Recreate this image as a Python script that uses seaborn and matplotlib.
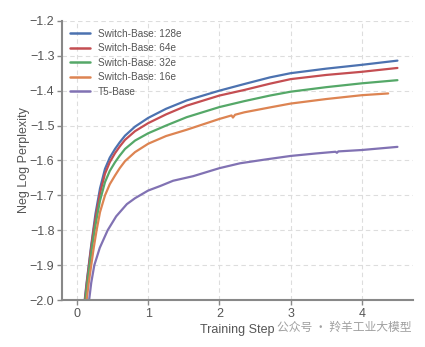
import numpy as np
import pandas as pd
import seaborn as sns
import matplotlib
matplotlib.use("Agg")
import matplotlib.pyplot as plt

# ---- data ----
labels = ["Switch-Base: 128e", "Switch-Base: 64e", "Switch-Base: 32e",
          "Switch-Base: 16e", "T5-Base"]

x_128 = [0.108, 0.135, 0.165, 0.195, 0.228, 0.26, 0.323, 0.393, 0.46, 0.534,
         0.60, 0.674, 0.815, 1.00, 1.25, 1.54, 2.00, 2.35, 2.71, 3.00, 3.50,
         4.00, 4.50]
y_128 = [-2.00, -1.95, -1.90, -1.85, -1.80, -1.752, -1.680, -1.624, -1.592,
         -1.567, -1.548, -1.529, -1.503, -1.478, -1.452, -1.428, -1.400,
         -1.381, -1.362, -1.350, -1.337, -1.326, -1.314]

x_64 = [0.111, 0.138, 0.168, 0.199, 0.233, 0.265, 0.323, 0.393, 0.46, 0.534,
        0.60, 0.674, 0.815, 1.00, 1.25, 1.54, 2.00, 2.35, 2.71, 3.00, 3.50,
        4.00, 4.50]
y_64 = [-2.00, -1.95, -1.90, -1.85, -1.80, -1.760, -1.694, -1.638, -1.605,
        -1.579, -1.560, -1.541, -1.516, -1.493, -1.468, -1.443, -1.414,
        -1.398, -1.380, -1.367, -1.355, -1.346, -1.335]

x_32 = [0.117, 0.146, 0.177, 0.21, 0.247, 0.28, 0.323, 0.393, 0.46, 0.534,
        0.60, 0.674, 0.815, 1.00, 1.25, 1.54, 2.00, 2.35, 2.71, 3.00, 3.50,
        4.00, 4.50]
y_32 = [-2.00, -1.95, -1.90, -1.85, -1.80, -1.762, -1.715, -1.662, -1.630,
        -1.605, -1.586, -1.567, -1.543, -1.522, -1.500, -1.476, -1.447,
        -1.430, -1.414, -1.403, -1.390, -1.379, -1.370]

x_16 = [0.135, 0.165, 0.20, 0.235, 0.275, 0.323, 0.393, 0.46, 0.534, 0.60,
        0.674, 0.815, 1.00, 1.25, 1.54, 2.00, 2.17, 2.19, 2.22, 2.35, 2.71,
        3.00, 3.50, 4.00, 4.37]
y_16 = [-2.00, -1.95, -1.90, -1.85, -1.80, -1.748, -1.700, -1.668, -1.643,
        -1.622, -1.602, -1.576, -1.552, -1.530, -1.512, -1.481, -1.471,
        -1.477, -1.469, -1.462, -1.448, -1.437, -1.424, -1.413, -1.408]

x_t5 = [0.17, 0.20, 0.243, 0.32, 0.43, 0.55, 0.70, 0.815, 1.00, 1.17, 1.35,
        1.63, 2.00, 2.29, 2.65, 3.00, 3.35, 3.63, 3.65, 3.67, 4.00, 4.50]
y_t5 = [-2.00, -1.95, -1.90, -1.85, -1.80, -1.76, -1.725, -1.708, -1.686,
        -1.673, -1.658, -1.645, -1.622, -1.608, -1.597, -1.587, -1.580,
        -1.575, -1.578, -1.574, -1.570, -1.561]

xs = [x_128, x_64, x_32, x_16, x_t5]
ys = [y_128, y_64, y_32, y_16, y_t5]

x_ticks = [0, 1, 2, 3, 4]
y_ticks = [-2.0, -1.9, -1.8, -1.7, -1.6, -1.5, -1.4, -1.3, -1.2]

frames = []
for lab, xv, yv in zip(labels, xs, ys):
    frames.append(pd.DataFrame({"step": xv, "nlp": yv, "model": lab}))
df = pd.concat(frames, ignore_index=True)

# ---- style ----
sns.set_theme(style="whitegrid")
plt.rcParams["font.family"] = ["Liberation Sans", "DejaVu Sans"]

palette = ["#4C72B0", "#C44E52", "#55A868", "#DD8452", "#8172B3"]

fig = plt.figure(figsize=(4.25, 3.47), dpi=100)
ax = fig.add_axes([0.146, 0.135, 0.826, 0.805])

sns.lineplot(data=df, x="step", y="nlp", hue="model", hue_order=labels,
             palette=palette, linewidth=1.6, ax=ax, sort=False,
             estimator=None)
for ln in ax.lines:
    ln.set_solid_joinstyle("round")

ax.set_xlim(-0.21, 4.72)
ax.set_ylim(-2.0, -1.2)
ax.set_xticks(x_ticks)
ax.set_yticks(y_ticks)
ax.set_yticklabels([f"{v:.1f}".replace("-", "\u2212") for v in y_ticks])

tick_col = "#555555"
ax.tick_params(axis="both", labelsize=9, colors="#888888", length=3.5,
               width=1.0, direction="out", pad=2)
ax.tick_params(axis="both", labelcolor=tick_col)
ax.xaxis.set_ticks_position("bottom")
ax.yaxis.set_ticks_position("left")

ax.grid(True, color="#dddddd", linestyle=(0, (4, 3)), linewidth=0.8)
for s in ["top", "right"]:
    ax.spines[s].set_visible(False)
for s in ["left", "bottom"]:
    ax.spines[s].set_visible(True)
    ax.spines[s].set_color("#888888")
    ax.spines[s].set_linewidth(1.5)

ax.set_xlabel("Training Step", fontsize=9, color=tick_col, labelpad=3)
ax.set_ylabel("Neg Log Perplexity", fontsize=9, color=tick_col, labelpad=0)

leg = ax.legend(loc="upper left", bbox_to_anchor=(0.0, 1.0), frameon=False,
                fontsize=7.2, handlelength=2.0, handletextpad=0.8,
                labelspacing=0.45, borderaxespad=0.4, borderpad=0.4)
for t in leg.get_texts():
    t.set_color("#555555")
for h in leg.legend_handles:
    h.set_linewidth(1.8)

fig.text(0.652, 0.057, "\u516c\u4f17\u53f7 \u00b7 \u7f9a\u7f8a\u5de5\u4e1a\u5927\u6a21\u578b",
         fontsize=8.5, color="#a0a0a0",
         family=["Noto Sans CJK SC", "DejaVu Sans"], va="center", ha="left")

fig.savefig("out.png", dpi=100)
